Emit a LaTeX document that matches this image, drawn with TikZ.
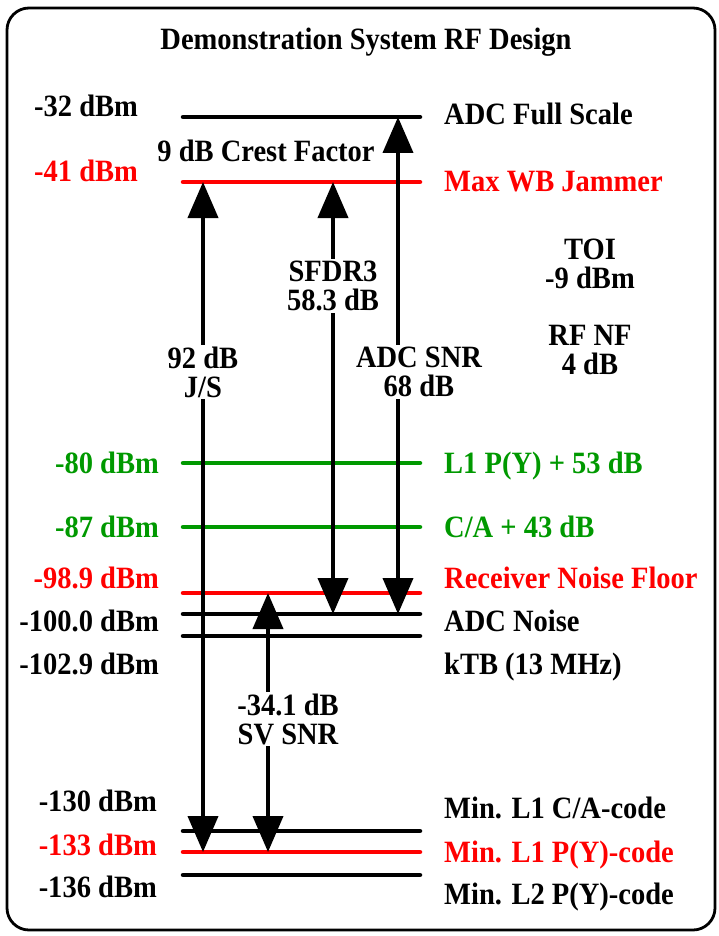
\documentclass[tikz,border=0pt]{standalone}
\usepackage{fontspec}
\setmainfont{Liberation Serif}[FakeStretch=0.92]
\usepackage{tikz}
\usetikzlibrary{arrows.meta, positioning}

\definecolor{jamred}{RGB}{255,0,0}
\definecolor{gpsgreen}{RGB}{0,153,0}

\tikzset{
    txt/.style={font=\bfseries\fontsize{31}{29}\selectfont, inner sep=1pt},
    level/.style={line width=4.5pt, line cap=round},
    span/.style={line width=4pt,
        {Triangle[length=36pt,width=30pt]}-{Triangle[length=36pt,width=30pt]}},
    spanlabel/.style={txt, fill=white, align=center, inner sep=2pt}
}

\begin{document}
\begin{tikzpicture}[x=1pt, y=-1pt]
    \useasboundingbox (0,0) rectangle (718,936);

    % Frame and title
    \draw[line width=2.8pt, rounded corners=22pt] (7,8) rectangle (715,930);
    \node[txt, anchor=base] (title) at (366,50) {Demonstration System RF Design};

    % Power levels
    \foreach \lv/\y/\c in {fs/117/black, wb/182/jamred, py/463/gpsgreen,
        ca/527/gpsgreen, rnf/593/jamred, adc/614/black, ktb/636/black,
        mca/831/black, mpy/852/jamred, mp2/875/black}
        \draw[level, \c] (183,\y) coordinate (\lv-l) -- (420,\y) coordinate (\lv-r);

    % Levels in dBm (left)
    \node[txt, anchor=base west] (fs-dbm) at (33,117) {-32 dBm};
    \node[txt, anchor=base west, jamred] (wb-dbm) at (33,182) {-41 dBm};
    \node[txt, anchor=base east, gpsgreen] (py-dbm) at (160,473) {-80 dBm};
    \node[txt, anchor=base east, gpsgreen] (ca-dbm) at (160,537) {-87 dBm};
    \node[txt, anchor=base east, jamred] (rnf-dbm) at (160,588) {-98.9 dBm};
    \node[txt, anchor=base east] (adc-dbm) at (160,631) {-100.0 dBm};
    \node[txt, anchor=base east] (ktb-dbm) at (160,674) {-102.9 dBm};
    \node[txt, anchor=base east] (mca-dbm) at (158,811) {-130 dBm};
    \node[txt, anchor=base east, jamred] (mpy-dbm) at (158,855) {-133 dBm};
    \node[txt, anchor=base east] (mp2-dbm) at (158,897) {-136 dBm};

    % Level names (right)
    \node[txt, anchor=base west] (fs-name) at (443,125) {ADC Full Scale};
    \node[txt, anchor=base west, jamred] (wb-name) at (443,191) {Max WB Jammer};
    \node[txt, anchor=base west, gpsgreen] (py-name) at (443,473) {L1 P(Y) + 53 dB};
    \node[txt, anchor=base west, gpsgreen] (ca-name) at (443,537) {C/A + 43 dB};
    \node[txt, anchor=base west, jamred] (rnf-name) at (443,588) {Receiver Noise Floor};
    \node[txt, anchor=base west] (adc-name) at (443,631) {ADC Noise};
    \node[txt, anchor=base west] (ktb-name) at (443,674) {kTB (13 MHz)};
    \node[txt, anchor=base west] (mca-name) at (443,818) {Min. L1 C/A-code};
    \node[txt, anchor=base west, jamred] (mpy-name) at (443,862) {Min. L1 P(Y)-code};
    \node[txt, anchor=base west] (mp2-name) at (443,904) {Min. L2 P(Y)-code};

    % Spans between levels
    \coordinate (js-x) at (203,0);
    \coordinate (sv-x) at (268,0);
    \coordinate (sf-x) at (333,0);
    \coordinate (snr-x) at (398,0);
    \draw[span] (js-x |- wb-l) -- (js-x |- mpy-l);
    \draw[span] (sf-x |- wb-l) -- (sf-x |- adc-l);
    \draw[span] (snr-x |- fs-l) -- (snr-x |- adc-l);
    \draw[span] (sv-x |- rnf-l) -- (sv-x |- mpy-l);

    \node[spanlabel] (js) at (203,372) {92 dB\\J/S};
    \node[spanlabel] (sfdr) at (333,286) {SFDR3\\58.3 dB};
    \node[spanlabel] (snr) at (419,372) {ADC SNR\\68 dB};
    \node[spanlabel] (svsnr) at (288,719) {-34.1 dB\\SV SNR};

    % Notes
    \node[txt, anchor=base] (crest) at (266,162) {9 dB Crest Factor};
    \node[txt, align=center] (toi) at (590,264) {TOI\\-9 dBm};
    \node[txt, align=center] (nf) at (590,350) {RF NF\\4 dB};
\end{tikzpicture}
\end{document}
